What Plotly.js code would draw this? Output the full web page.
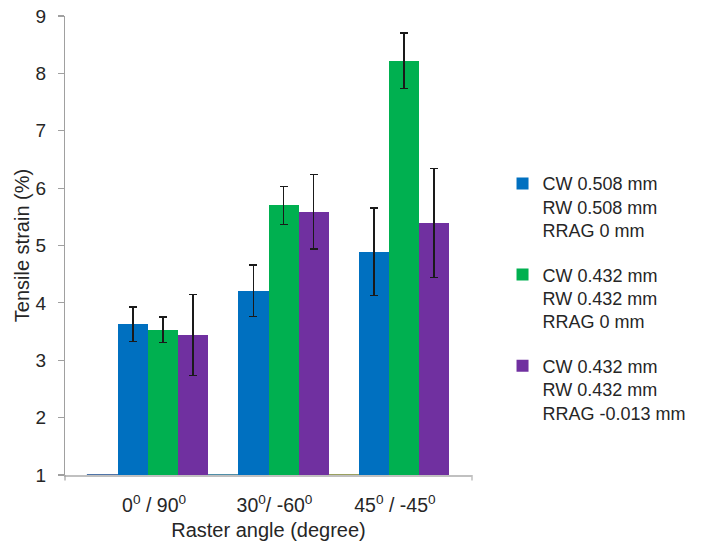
<!DOCTYPE html>
<html>
<head>
<meta charset="utf-8">
<script src="https://cdn.plot.ly/plotly-3.0.1.min.js"></script>
<style>html,body{margin:0;padding:0;background:#fff;}#chart{width:704px;height:542px;}</style>
</head>
<body>
<div id="chart"></div>
<script>
// Categories (raster angle)
const categories = ['0<sup>0</sup> / 90<sup>0</sup>', '30<sup>0</sup>/ -60<sup>0</sup>', '45<sup>0</sup> / -45<sup>0</sup>'];

// Series names
const nameBlue = 'CW 0.508 mm<br>RW 0.508 mm<br>RRAG 0 mm';
const nameGreen = 'CW 0.432 mm<br>RW 0.432 mm<br>RRAG 0 mm';
const namePurple = 'CW 0.432 mm<br>RW 0.432 mm<br>RRAG -0.013 mm';

// Hidden placeholder series sitting at the axis baseline
const hiddenValues = [1, 1, 1];

// Tensile strain (%) and error values
const blueValues = [3.63, 4.21, 4.89];
const blueErrors = [0.30, 0.45, 0.76];
const greenValues = [3.53, 5.70, 8.22];
const greenErrors = [0.22, 0.33, 0.48];
const purpleValues = [3.44, 5.59, 5.39];
const purpleErrors = [0.71, 0.65, 0.95];

const FONT = 'Liberation Sans, Arial, sans-serif';
const TXT = '#262626';

function errBar(arr) {
  return {type: 'data', array: arr, visible: true, color: '#1a1a1a', thickness: 1.5, width: 4};
}

const traces = [
  {type: 'bar', x: categories, y: hiddenValues, showlegend: false, hoverinfo: 'skip',
   marker: {color: 'rgba(0,0,0,0)', line: {color: ['#4f74a8', '#4f8ea8', '#9aa060'], width: 2}}},
  {type: 'bar', x: categories, y: blueValues, name: nameBlue, legendgroup: 'a',
   marker: {color: '#0070C0'}, error_y: errBar(blueErrors)},
  {type: 'bar', x: categories, y: greenValues, name: nameGreen, legendgroup: 'b',
   marker: {color: '#00B050'}, error_y: errBar(greenErrors)},
  {type: 'bar', x: categories, y: purpleValues, name: namePurple, legendgroup: 'c',
   marker: {color: '#7030A0'}, error_y: errBar(purpleErrors)}
];

const layout = {
  width: 704, height: 542,
  margin: {l: 65, r: 225, t: 16, b: 67},
  paper_bgcolor: '#ffffff', plot_bgcolor: '#ffffff',
  font: {family: FONT, size: 19, color: TXT},
  barmode: 'group', bargap: 0, bargroupgap: 0,
  showlegend: true,
  legend: {
    x: 1.075, xanchor: 'left', y: 0.675, yanchor: 'top',
    valign: 'top', tracegroupgap: 18,
    font: {family: FONT, size: 18, color: TXT},
    bgcolor: 'rgba(0,0,0,0)'
  },
  xaxis: {
    type: 'category', range: [-0.69, 2.69],
    showline: true, linecolor: '#c0c0c0', linewidth: 1.5,
    ticks: '', showgrid: false, zeroline: false,
    tickfont: {family: FONT, size: 19.5, color: TXT},
    ticklabelshift: 6, ticklabelstandoff: 12,
    title: {text: 'Raster angle (degree)', font: {family: FONT, size: 20, color: TXT}, standoff: 8}
  },
  yaxis: {
    range: [1, 9], dtick: 1, tick0: 1,
    showline: true, linecolor: '#a0a0a0', linewidth: 1.2,
    ticks: 'outside', ticklen: 6, tickcolor: '#a0a0a0', tickwidth: 1.2,
    showgrid: false, zeroline: false,
    tickfont: {family: FONT, size: 19, color: TXT},
    ticklabelstandoff: 8,
    title: {text: 'Tensile strain (%)', font: {family: FONT, size: 20, color: TXT}, standoff: 0}
  },
  shapes: [
    {type: 'line', xref: 'paper', yref: 'paper', x0: 1, x1: 1, y0: 0, y1: -0.012, line: {color: '#c0c0c0', width: 1.5}},
    {type: 'line', xref: 'paper', yref: 'paper', x0: 0, x1: 0, y0: 0, y1: -0.012, line: {color: '#a0a0a0', width: 1.2}}
  ]
};

Plotly.newPlot('chart', traces, layout, {displayModeBar: false, staticPlot: true});
</script>
</body>
</html>
